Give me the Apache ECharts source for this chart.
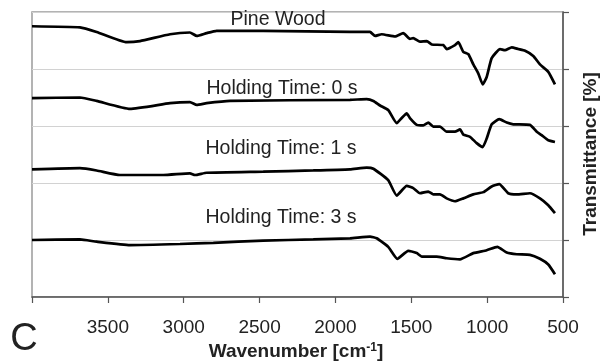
<!DOCTYPE html>
<html>
<head>
<meta charset="utf-8">
<script src="https://cdn.jsdelivr.net/npm/echarts@6/dist/echarts.min.js"></script>
<style>html,body{margin:0;padding:0;background:#fff;}#c{width:605px;height:363px;}</style>
</head>
<body>
<div id="c"></div>
<script>
// Wavenumber (cm^-1) and offset transmittance (axis units 0..5)
var pineWN  = [4000,3684,3574,3376,3288,3090,2959,2914,2849,2783,2477,1904,1772,1739,1695,1607,1553,1509,1487,1443,1398,1365,1289,1267,1212,1190,1157,1124,1091,1058,1029,1003,970,915,882,838,795,750,696,652,597,553];
var pineT   = [4.75,4.73,4.65,4.47,4.49,4.61,4.64,4.58,4.63,4.67,4.67,4.65,4.65,4.58,4.61,4.57,4.63,4.53,4.54,4.48,4.49,4.43,4.42,4.35,4.42,4.47,4.30,4.26,4.08,3.92,3.73,3.86,4.19,4.35,4.33,4.38,4.35,4.32,4.23,4.08,3.95,3.73];

var t0WN = [4000,3684,3574,3354,3090,2959,2914,2849,2695,1904,1794,1750,1706,1652,1596,1563,1530,1509,1464,1421,1388,1355,1311,1267,1212,1179,1157,1113,1069,1029,1003,970,920,871,828,718,673,641,597,553];
var t0T  = [3.49,3.50,3.44,3.30,3.40,3.42,3.37,3.40,3.44,3.46,3.47,3.44,3.36,3.28,3.05,3.14,3.22,3.14,3.02,3.01,3.06,2.99,2.99,2.90,2.90,2.94,2.85,2.81,2.70,2.63,2.78,3.03,3.12,3.06,3.03,3.02,2.90,2.84,2.75,2.72];

var t1WN = [4000,3684,3574,3420,3135,2959,2926,2849,2476,2146,1904,1794,1750,1652,1596,1530,1487,1443,1388,1355,1311,1267,1212,1157,1091,1025,970,920,861,805,718,652,597,553];
var t1T  = [2.24,2.26,2.22,2.14,2.14,2.17,2.14,2.18,2.20,2.22,2.24,2.27,2.25,2.05,1.78,1.95,1.91,1.82,1.85,1.80,1.80,1.73,1.68,1.73,1.80,1.84,1.94,1.98,1.82,1.80,1.82,1.73,1.61,1.47];

var t3WN = [4000,3684,3574,3354,3025,2805,2476,2146,1904,1772,1728,1652,1592,1520,1464,1431,1333,1267,1179,1091,1003,933,871,805,718,652,597,553];
var t3T  = [1.00,1.01,0.97,0.91,0.93,0.95,0.99,1.01,1.03,1.06,1.03,0.88,0.67,0.81,0.77,0.71,0.71,0.68,0.66,0.77,0.82,0.88,0.78,0.75,0.74,0.67,0.57,0.40];

var seriesNames = ['Pine Wood','Holding Time: 0 s','Holding Time: 1 s','Holding Time: 3 s'];
var xTicks = [500,1000,1500,2000,2500,3000,3500];

function pairs(a,b){ return a.map(function(v,i){ return [v,b[i]]; }); }
var all = [[pineWN,pineT],[t0WN,t0T],[t1WN,t1T],[t3WN,t3T]];

var chart = echarts.init(document.getElementById('c'), null, {renderer:'canvas'});
var FONT = '"Liberation Sans", Arial, Helvetica, sans-serif';
var labelPos = [[278,19.5],[282,88.5],[281,148.5],[281,217.5]];

chart.setOption({
  animation:false,
  backgroundColor:'#fff',
  grid:{left:32,right:42,top:12,bottom:66,show:true,borderColor:'#9a9a9a',borderWidth:1.5,backgroundColor:'transparent'},
  xAxis:{
    type:'value', inverse:true, min:500, max:4000, interval:500,
    axisLine:{show:true,onZero:false,lineStyle:{color:'#555',width:1.5}},
    axisTick:{show:true,inside:false,length:6,lineStyle:{color:'#555',width:1.2}},
    axisLabel:{margin:21,color:'#222',fontSize:19,fontFamily:FONT,
      formatter:function(v){ return xTicks.indexOf(v)>=0 ? String(v) : ''; }},
    splitLine:{show:false}
  },
  yAxis:{
    type:'value', position:'right', min:0, max:5, interval:1,
    axisLine:{show:true,lineStyle:{color:'#555',width:1.5}},
    axisTick:{show:true,inside:false,length:6,lineStyle:{color:'#555',width:1.2}},
    axisLabel:{show:false},
    splitLine:{show:true,lineStyle:{color:'#d2d2d2',width:1.2}}
  },
  series: all.map(function(d,i){
    return {type:'line',name:seriesNames[i],data:pairs(d[0],d[1]),showSymbol:false,smooth:0.15,
      lineStyle:{color:'#000',width:2.7},z:5};
  }),
  graphic: labelPos.map(function(p,i){
    return {type:'text',x:p[0],y:p[1],style:{text:seriesNames[i],font:'19.5px '+FONT,fill:'#222',textAlign:'center',textVerticalAlign:'middle'},z:10};
  }).concat([
    {type:'text',x:24,y:340,style:{text:'C',font:'38px '+FONT,fill:'#222',textAlign:'center',textVerticalAlign:'middle'}},
    {type:'text',x:296,y:352,style:{
      text:'{a|Wavenumber [cm}{s|-1}{a|]}',textAlign:'center',textVerticalAlign:'middle',
      rich:{a:{font:'bold 19px '+FONT,fill:'#222',color:'#222'},s:{font:'bold 12px '+FONT,fill:'#222',color:'#222',verticalAlign:'top',padding:[0,0,8,0]}}}},
    {type:'text',x:591,y:154,rotation:Math.PI/2,style:{text:'Transmittance [%]',font:'bold 19px '+FONT,fill:'#222',textAlign:'center',textVerticalAlign:'middle'}}
  ])
});
</script>
</body>
</html>
